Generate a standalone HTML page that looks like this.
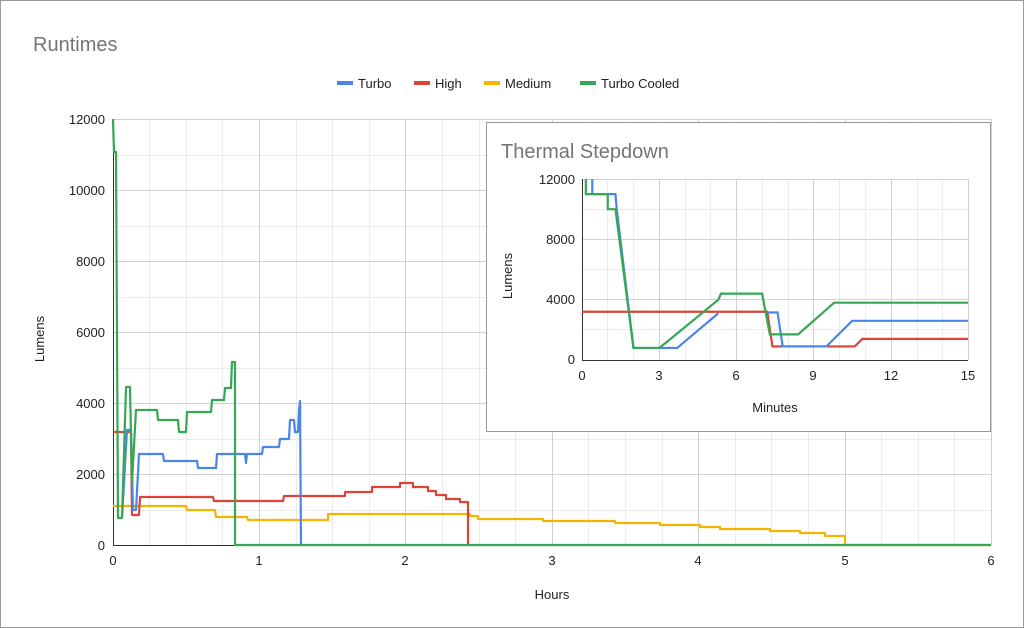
<!DOCTYPE html>
<html><head><meta charset="utf-8"><style>
html,body{margin:0;padding:0;background:#fff}
svg{display:block;font-family:"Liberation Sans",Arial,sans-serif}
</style></head><body>
<svg width="1024" height="628" viewBox="0 0 1024 628">
<rect x="0.5" y="0.5" width="1023" height="627" fill="#fff" stroke="#999"/>
<text x="33" y="51" font-size="20" fill="#757575">Runtimes</text>
<g font-size="13" fill="#222">
<rect x="337" y="81" width="16" height="4" fill="#4a86e8"/><text x="358" y="88">Turbo</text>
<rect x="414" y="81" width="16" height="4" fill="#db4437"/><text x="435" y="88">High</text>
<rect x="484" y="81" width="16" height="4" fill="#f4b400"/><text x="505" y="88">Medium</text>
<rect x="580" y="81" width="16" height="4" fill="#0f9d58" style="fill:#34a853"/><text x="601" y="88">Turbo Cooled</text>
</g>
<g id="grid" stroke="#ececec" stroke-width="1">
<path d="M113 155.5H991M113 226.5H991M113 297.5H991M113 368.5H991M113 439.5H991M113 510.5H991"/>
<path d="M149.5 119V545M186.5 119V545M222.5 119V545M296.5 119V545M332.5 119V545M369.5 119V545M442.5 119V545M479.5 119V545M515.5 119V545M588.5 119V545M625.5 119V545M662.5 119V545M735.5 119V545M771.5 119V545M808.5 119V545M881.5 119V545M918.5 119V545M954.5 119V545"/>
</g>
<g stroke="#d0d0d0" stroke-width="1">
<path d="M113 119.5H991M113 190.5H991M113 261.5H991M113 332.5H991M113 403.5H991M113 474.5H991"/>
<path d="M259.5 119V545M405.5 119V545M552.5 119V545M698.5 119V545M845.5 119V545M991.5 119V545"/>
</g>
<path d="M113 545.5H991M113.5 119V545" stroke="#333" stroke-width="1"/>
<g font-size="13" fill="#222" text-anchor="end">
<text x="105" y="124">12000</text><text x="105" y="195">10000</text><text x="105" y="266">8000</text><text x="105" y="337">6000</text><text x="105" y="408">4000</text><text x="105" y="479">2000</text><text x="105" y="550">0</text>
</g>
<g font-size="13" fill="#222" text-anchor="middle">
<text x="113" y="565">0</text><text x="259" y="565">1</text><text x="405" y="565">2</text><text x="552" y="565">3</text><text x="698" y="565">4</text><text x="845" y="565">5</text><text x="991" y="565">6</text>
<text x="552" y="599">Hours</text>
</g>
<text transform="translate(44,339) rotate(-90)" font-size="13" fill="#222" text-anchor="middle">Lumens</text>
<g fill="none" stroke-width="2.2" stroke-linejoin="round">
<polyline stroke="#f4b400" points="113,506 186,506 187,510 215,510 216,517 247,517 248,520 328,520 328,514 470,514 470,516 478,516 478,519 543,519 543,521 615,521 615,523 660,523 660,525 700,525 700,527 720,527 720,529 770,529 770,531 800,531 800,533 825,533 825,536 845,536 845,545 991,545"/>
<polyline stroke="#db4437" points="113,432 131,432 132,515 139,515 140,497 213,497 214,501 283,501 284,496 345,496 345,492 372,492 372,487 400,487 400,483 413,483 413,487 428,487 428,491 436,491 436,495 446,495 446,499 460,499 460,502 468,502 468,545"/>
<polyline stroke="#4a86e8" points="118,518 122,518 127,430 131,430 133,510 136,510 139,454 163,454 164,461 197,461 198,468 216,468 217,454 245,454 246,463 247,454 262,454 263,447 279,447 280,439 289,439 290,420 294,420 295,432 298,432 299,410 300,401 301,545"/>
<polyline stroke="#34a853" points="113,119 114,152 116,152 118,518 122,518 126,387 130,387 132,482 136,410 157,410 158,420 178,420 179,432 186,432 187,412 211,412 212,400 224,400 225,388 231,388 232,362 235,362 235,545 991,545"/>
</g>
<!-- inset -->
<rect x="486.5" y="122.5" width="504" height="309" fill="#fff" stroke="#999"/>
<text x="501" y="158" font-size="20" fill="#757575">Thermal Stepdown</text>
<g stroke="#ececec">
<path d="M582 209.5H968M582 269.5H968M582 329.5H968"/>
<path d="M607.5 179V360M633.5 179V360M685.5 179V360M710.5 179V360M762.5 179V360M788.5 179V360M839.5 179V360M865.5 179V360M917.5 179V360M942.5 179V360"/>
</g>
<g stroke="#d0d0d0">
<path d="M582 179.5H968M582 239.5H968M582 299.5H968"/>
<path d="M659.5 179V360M736.5 179V360M813.5 179V360M891.5 179V360M968.5 179V360"/>
</g>
<path d="M582 360.5H968M582.5 179V360" stroke="#333"/>
<g font-size="13" fill="#222" text-anchor="end">
<text x="575" y="184">12000</text><text x="575" y="244">8000</text><text x="575" y="304">4000</text><text x="575" y="364">0</text>
</g>
<g font-size="13" fill="#222" text-anchor="middle">
<text x="582" y="380">0</text><text x="659" y="380">3</text><text x="736" y="380">6</text><text x="813" y="380">9</text><text x="891" y="380">12</text><text x="968" y="380">15</text>
<text x="775" y="412">Minutes</text>
</g>
<text transform="translate(512,276) rotate(-90)" font-size="13" fill="#222" text-anchor="middle">Lumens</text>
<g fill="none" stroke-width="2.2" transform="translate(582,360) scale(25.73,-0.01508)">
<polyline vector-effect="non-scaling-stroke" stroke="#db4437" points="0,3200 7.2,3200 7.4,900 10.6,900 10.9,1400 15,1400"/>
<polyline vector-effect="non-scaling-stroke" stroke="#4a86e8" points="0.4,12000 0.4,11000 1.3,11000 1.35,10000 2,800 3.7,800 5.3,3100"/>
<polyline vector-effect="non-scaling-stroke" stroke="#4a86e8" points="7.2,3150 7.6,3150 7.8,900 9.5,900 10.5,2600 15,2600"/>
<polyline vector-effect="non-scaling-stroke" stroke="#34a853" points="0.15,12000 0.15,11000 1,11000 1,10000 1.3,10000 2,800 3,800 3.3,1200 5.3,4000 5.4,4400 7,4400 7.3,1700 8.4,1700 9.8,3800 15,3800"/>
</g>
</svg>
</body></html>
